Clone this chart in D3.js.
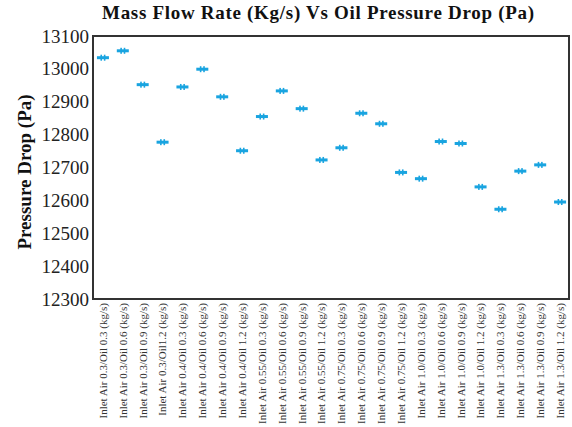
<!DOCTYPE html>
<html>
<head>
<meta charset="utf-8">
<script src="https://cdn.jsdelivr.net/npm/d3@7"></script>
<style>
body { margin: 0; background: #fff; }
svg, svg text { font-family: "Liberation Serif", "Times New Roman", Tinos, "DejaVu Serif", serif !important; }
</style>
</head>
<body>
<div id="chart"></div>
<script>
var categories = [
    "Inlet Air 0.3/Oil 0.3 (kg/s)", "Inlet Air 0.3/Oil 0.6 (kg/s)", "Inlet Air 0.3/Oil 0.9 (kg/s)", "Inlet Air 0.3/Oil1.2 (kg/s)",
    "Inlet Air 0.4/Oil 0.3 (kg/s)", "Inlet Air 0.4/Oil 0.6 (kg/s)", "Inlet Air 0.4/Oil 0.9 (kg/s)", "Inlet Air 0.4/Oil 1.2 (kg/s)",
    "Inlet Air 0.55/Oil 0.3 (kg/s)", "Inlet Air 0.55/Oil 0.6 (kg/s)", "Inlet Air 0.55/Oil 0.9 (kg/s)", "Inlet Air 0.55/Oil 1.2 (kg/s)",
    "Inlet Air 0.75/Oil 0.3 (kg/s)", "Inlet Air 0.75/Oil 0.6 (kg/s)", "Inlet Air 0.75/Oil 0.9 (kg/s)", "Inlet Air 0.75/Oil 1.2 (kg/s)",
    "Inlet Air 1.0/Oil 0.3 (kg/s)", "Inlet Air 1.0/Oil 0.6 (kg/s)", "Inlet Air 1.0/Oil 0.9 (kg/s)", "Inlet Air 1.0/Oil 1.2 (kg/s)",
    "Inlet Air 1.3/Oil 0.3 (kg/s)", "Inlet Air 1.3/Oil 0.6 (kg/s)", "Inlet Air 1.3/Oil 0.9 (kg/s)", "Inlet Air 1.3/Oil 1.2 (kg/s)"
];
var pressureDrop = [
    13034, 13055, 12952, 12777,
    12945, 12999, 12915, 12751,
    12855, 12933, 12879, 12723,
    12760, 12865, 12833, 12685,
    12666, 12779, 12773, 12641,
    12573, 12689, 12708, 12595
];
var yTicks = [12300, 12400, 12500, 12600, 12700, 12800, 12900, 13000, 13100];

var width = 572, height = 427;
var margin = {top: 36, right: 2, bottom: 128, left: 93};

var svg = d3.select("#chart").append("svg")
    .attr("width", width)
    .attr("height", height);

var x = d3.scaleBand()
    .domain(categories)
    .range([margin.left, width - margin.right]);

var y = d3.scaleLinear()
    .domain([12300, 13100])
    .range([height - margin.bottom, margin.top]);

// title
svg.append("text")
    .attr("x", 318)
    .attr("y", 19)
    .attr("text-anchor", "middle")
    .attr("font-weight", "bold")
    .attr("font-size", 19)
    .attr("textLength", 432)
    .attr("lengthAdjust", "spacing")
    .attr("fill", "#111")
    .text("Mass Flow Rate (Kg/s) Vs Oil Pressure Drop (Pa)");

// y axis
var yAxis = svg.append("g")
    .attr("transform", "translate(" + margin.left + ",0)")
    .call(d3.axisLeft(y).tickValues(yTicks).tickSize(0).tickPadding(4).tickFormat(d3.format("d")));
yAxis.select(".domain").remove();
yAxis.selectAll("text")
    .attr("font-size", 19)
    .attr("fill", "#222");

svg.append("text")
    .attr("transform", "translate(31," + 172 + ") rotate(-90)")
    .attr("text-anchor", "middle")
    .attr("font-weight", "bold")
    .attr("font-size", 19)
    .attr("fill", "#111")
    .text("Pressure Drop (Pa)");

// x axis
var xAxis = svg.append("g")
    .attr("transform", "translate(0," + (height - margin.bottom) + ")")
    .call(d3.axisBottom(x).tickSize(0).tickPadding(0));
xAxis.select(".domain").remove();
xAxis.selectAll("text")
    .attr("font-size", 11)
    .attr("fill", "#333")
    .attr("text-anchor", "end")
    .attr("dy", "0.35em")
    .attr("transform", "rotate(-90) translate(-4,0)")
    .attr("x", 0)
    .attr("y", 0);

// frame
svg.append("rect")
    .attr("x", margin.left)
    .attr("y", margin.top)
    .attr("width", width - margin.left - margin.right - 1)
    .attr("height", height - margin.top - margin.bottom)
    .attr("fill", "none")
    .attr("stroke", "#333")
    .attr("stroke-width", 2);

// markers
var pts = svg.append("g").selectAll("g")
    .data(pressureDrop)
    .enter().append("g")
    .attr("transform", function (d, i) {
        return "translate(" + (x(categories[i]) + x.bandwidth() / 2) + "," + y(d) + ")";
    })
    .attr("fill", "#19a4e0");

pts.append("rect").attr("x", -6).attr("y", -1.5).attr("width", 12).attr("height", 3);
pts.append("rect").attr("x", -2.5).attr("y", -3).attr("width", 1.6).attr("height", 6);
pts.append("rect").attr("x", 0.9).attr("y", -3).attr("width", 1.6).attr("height", 6);
</script>
</body>
</html>
